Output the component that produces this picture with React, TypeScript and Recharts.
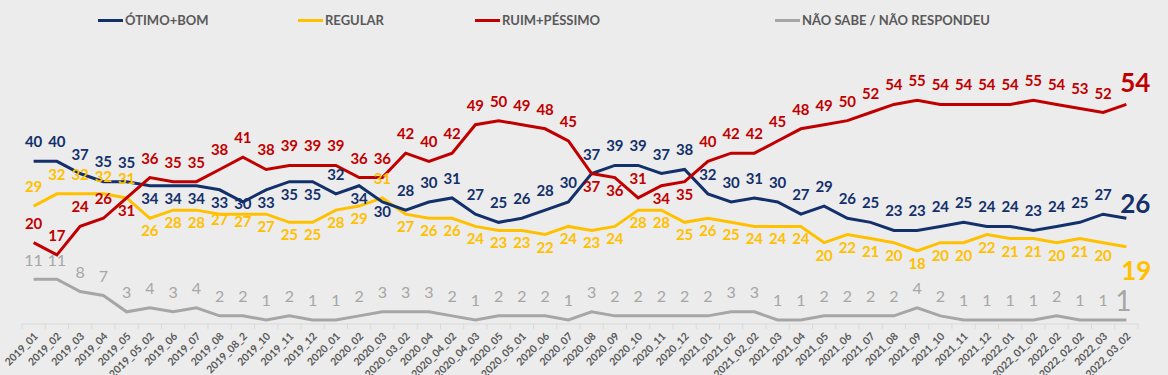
import React from "react";
import { LineChart, Line, XAxis, YAxis, LabelList } from "recharts";

const categories = [
  "2019_01", "2019_02", "2019_03", "2019_04", "2019_05", "2019_05_02", "2019_06", "2019_07",
  "2019_08", "2019_08_2", "2019_10", "2019_11", "2019_12", "2020_01", "2020_02", "2020_03",
  "2020_03_02", "2020_04", "2020_04_02", "2020_04_03", "2020_05", "2020_05_01", "2020_06", "2020_07",
  "2020_08", "2020_09", "2020_10", "2020_11", "2020_12", "2021_01", "2021_02", "2021_02_02",
  "2021_03", "2021_04", "2021_05", "2021_06", "2021_07", "2021_08", "2021_09", "2021_10",
  "2021_11", "2021_12", "2022_01", "2022_01_02", "2022_02", "2022_02_02", "2022_03", "2022_03_02",
];

const otimoBom = [
  40, 40, 37, 35, 35, 34, 34, 34, 33, 30, 33, 35, 35, 32, 34, 30, 28, 30, 31, 27, 25, 26, 28, 30,
  37, 39, 39, 37, 38, 32, 30, 31, 30, 27, 29, 26, 25, 23, 23, 24, 25, 24, 24, 23, 24, 25, 27, 26,
];
const regular = [
  29, 32, 32, 32, 31, 26, 28, 28, 27, 27, 27, 25, 25, 28, 29, 31, 27, 26, 26, 24, 23, 23, 22, 24,
  23, 24, 28, 28, 25, 26, 25, 24, 24, 24, 20, 22, 21, 20, 18, 20, 20, 22, 21, 21, 20, 21, 20, 19,
];
const ruimPessimo = [
  20, 17, 24, 26, 31, 36, 35, 35, 38, 41, 38, 39, 39, 39, 36, 36, 42, 40, 42, 49, 50, 49, 48, 45,
  37, 36, 31, 34, 35, 40, 42, 42, 45, 48, 49, 50, 52, 54, 55, 54, 54, 54, 54, 55, 54, 53, 52, 54,
];
const naoSabe = [
  11, 11, 8, 7, 3, 4, 3, 4, 2, 2, 1, 2, 1, 1, 2, 3, 3, 3, 2, 1, 2, 2, 2, 1,
  3, 2, 2, 2, 2, 2, 3, 3, 1, 1, 2, 2, 2, 2, 4, 2, 1, 1, 1, 1, 2, 1, 1, 1,
];

// which labels sit under the line instead of over it
const BLUE_BELOW = new Set([5, 6, 7, 8, 9, 10, 11, 12, 14, 15]);
const RED_BELOW = new Set([4, 24, 25, 27, 28]);
const YELLOW_ABOVE = new Set([0, 1, 2, 3, 4, 15]);
// a few labels were nudged by hand in the original
const BLUE_NUDGE: Record<number, number> = { 3: -21, 9: 1, 15: 9 };
const YELLOW_NUDGE: Record<number, number> = { 3: -18, 8: 5, 9: 7 };

const BLUE = "#13306B";
const YELLOW = "#FFC000";
const RED = "#C00000";
const GRAY = "#A6A6A6";
const TEXT = "#595959";
const FONT = "Lato, 'Open Sans', sans-serif";

const W = 1168;
const H = 375;
const PLOT_LEFT = 22;
const PLOT_RIGHT = 1138;
const BAND = (PLOT_RIGHT - PLOT_LEFT) / categories.length;

const data = categories.map((name, i) => ({
  name,
  otimo: otimoBom[i],
  regular: regular[i],
  ruim: ruimPessimo[i],
  ns: naoSabe[i],
}));

const lastIdx = categories.length - 1;

function makeLabel(
  color: string,
  isBelow: (i: number) => boolean,
  nudge: Record<number, number>,
  bold: boolean,
  size: number,
  last: { dx: number; dy: number; size: number },
) {
  return (props: any) => {
    const x = props.x ?? props.viewBox?.x;
    const y = props.y ?? props.viewBox?.y;
    const { value, index } = props;
    if (x == null || y == null) return null;
    const isLast = index === lastIdx;
    let dx = 0;
    let dy = isBelow(index) ? 12 : -20;
    if (nudge[index] != null) dy = nudge[index];
    if (isLast) {
      dx = last.dx;
      dy = last.dy;
    }
    return (
      <text
        x={x + dx}
        y={y + dy}
        fill={color}
        textAnchor="middle"
        dominantBaseline="central"
        fontFamily={FONT}
        fontWeight={bold ? 700 : 400}
        fontSize={isLast ? last.size : size}
      >
        {value}
      </text>
    );
  };
}

function XTick(props: any) {
  const { x, y, payload, index } = props;
  const half = BAND / 2;
  return (
    <g>
      <line x1={x - half} x2={x - half} y1={y} y2={y + 5} stroke="#D9D9D9" />
      {index === lastIdx && (
        <line x1={x + half} x2={x + half} y1={y} y2={y + 5} stroke="#D9D9D9" />
      )}
      <text
        transform={`translate(${x + 5},${y + 13}) rotate(-45)`}
        textAnchor="end"
        fill={TEXT}
        fontFamily={FONT}
        fontWeight={700}
        fontSize={10.5}
      >
        {payload.value}
      </text>
    </g>
  );
}

const legendItems = [
  { label: "ÓTIMO+BOM", color: BLUE, left: 98 },
  { label: "REGULAR", color: YELLOW, left: 298 },
  { label: "RUIM+PÉSSIMO", color: RED, left: 475 },
  { label: "NÃO SABE / NÃO RESPONDEU", color: GRAY, left: 775 },
];

export default function App() {
  return (
    <div
      style={{
        position: "absolute",
        left: 0,
        top: 0,
        width: W,
        height: H,
        background: "#ECECEC",
        overflow: "hidden",
      }}
    >
      {legendItems.map((it) => (
        <div
          key={it.label}
          style={{
            position: "absolute",
            left: it.left,
            top: 11,
            height: 18,
            display: "flex",
            alignItems: "center",
            fontFamily: FONT,
            fontWeight: 700,
            fontSize: 13,
            color: TEXT,
            whiteSpace: "nowrap",
          }}
        >
          <span
            style={{ display: "inline-block", width: 25, height: 3, background: it.color, marginRight: 2 }}
          />
          {it.label}
        </div>
      ))}
      <LineChart
        width={W}
        height={H}
        data={data}
        margin={{ top: 80, right: W - PLOT_RIGHT, bottom: 0, left: PLOT_LEFT }}
      >
        <XAxis
          dataKey="name"
          interval={0}
          height={51}
          padding={{ left: BAND / 2, right: BAND / 2 }}
          axisLine={{ stroke: "#D9D9D9" }}
          tickLine={false}
          tickSize={0}
          tickMargin={0}
          tick={<XTick />}
        />
        <YAxis hide domain={[0, 60]} />
        <Line
          dataKey="ns"
          stroke={GRAY}
          strokeWidth={3}
          dot={false}
          isAnimationActive={false}
        >
          <LabelList
            dataKey="ns"
            content={makeLabel(GRAY, () => false, {}, false, 16, { dx: -3, dy: -20, size: 28 })}
          />
        </Line>
        <Line
          dataKey="regular"
          stroke={YELLOW}
          strokeWidth={3}
          dot={false}
          isAnimationActive={false}
        >
          <LabelList
            dataKey="regular"
            content={makeLabel(YELLOW, (i) => !YELLOW_ABOVE.has(i), YELLOW_NUDGE, true, 15, { dx: 10, dy: 23, size: 26 })}
          />
        </Line>
        <Line
          dataKey="otimo"
          stroke={BLUE}
          strokeWidth={3}
          dot={false}
          isAnimationActive={false}
        >
          <LabelList
            dataKey="otimo"
            content={makeLabel(BLUE, (i) => BLUE_BELOW.has(i), BLUE_NUDGE, true, 15, { dx: 9, dy: -15, size: 26 })}
          />
        </Line>
        <Line
          dataKey="ruim"
          stroke={RED}
          strokeWidth={3}
          dot={false}
          isAnimationActive={false}
        >
          <LabelList
            dataKey="ruim"
            content={makeLabel(RED, (i) => RED_BELOW.has(i), {}, true, 15, { dx: 9, dy: -22, size: 26 })}
          />
        </Line>
      </LineChart>
    </div>
  );
}
